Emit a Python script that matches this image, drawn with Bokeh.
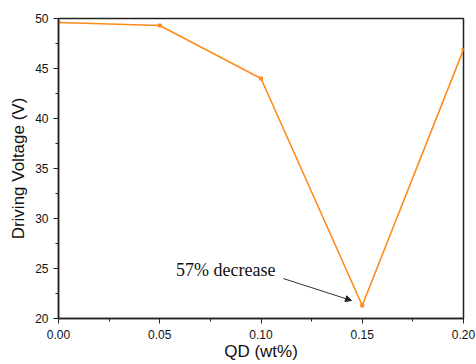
from bokeh.plotting import figure
from bokeh.models import Range1d, FixedTicker, Arrow, NormalHead, Label
from bokeh.embed import file_html
from bokeh.resources import INLINE

qd = [0.00, 0.05, 0.10, 0.15, 0.20]
voltage = [49.6, 49.3, 44.0, 21.3, 46.9]
x_ticks = [0.00, 0.05, 0.10, 0.15, 0.20]
x_minor = [0.025, 0.075, 0.125, 0.175]
y_ticks = [20, 25, 30, 35, 40, 45, 50]
y_minor = [22.5, 27.5, 32.5, 37.5, 42.5, 47.5]
annot_text = "57% decrease"
annot_pos = (0.058, 24.9)
arrow_start = (0.111, 24.0)
arrow_end = (0.1447, 21.8)

color = "#FF8A18"

p = figure(width=476, height=364, output_backend="svg", toolbar_location=None,
           x_range=Range1d(0, 0.2), y_range=Range1d(20, 50),
           min_border_left=58, min_border_right=13, min_border_top=18, min_border_bottom=46)
p.xgrid.visible = False
p.ygrid.visible = False
p.outline_line_color = "#222222"
p.outline_line_width = 1.5
p.background_fill_color = "white"
p.border_fill_color = "white"

p.line(qd, voltage, line_color=color, line_width=1.6)
p.scatter(qd, voltage, marker="square", size=3, fill_color=color, line_color=color)

p.xaxis.ticker = FixedTicker(ticks=x_ticks, minor_ticks=x_minor)
p.yaxis.ticker = FixedTicker(ticks=y_ticks, minor_ticks=y_minor)
p.xaxis.major_label_overrides = {t: f"{t:.2f}" for t in x_ticks}

for ax in (p.xaxis[0], p.yaxis[0]):
    ax.axis_line_color = "#222222"
    ax.axis_line_width = 1.5
    ax.major_tick_line_color = "#222222"
    ax.minor_tick_line_color = "#222222"
    ax.major_tick_in = 0
    ax.major_tick_out = 5
    ax.minor_tick_in = 0
    ax.minor_tick_out = 3
    ax.major_label_text_font = "Liberation Sans"
    ax.major_label_text_font_size = "12px"
    ax.major_label_text_color = "#111111"
    ax.axis_label_text_font = "Liberation Sans"
    ax.axis_label_text_font_size = "17px"
    ax.axis_label_text_font_style = "normal"
    ax.axis_label_text_color = "#111111"

p.xaxis.axis_label = "QD (wt%)"
p.yaxis.axis_label = "Driving Voltage (V)"
p.xaxis.major_label_standoff = 6
p.yaxis.major_label_standoff = 5
p.xaxis.axis_label_standoff = 0
p.yaxis.axis_label_standoff = 4

p.add_layout(Label(x=annot_pos[0], y=annot_pos[1], text=annot_text,
                   text_font="Liberation Serif", text_font_size="18px",
                   text_baseline="middle", text_align="left", text_color="#111111"))
p.add_layout(Arrow(x_start=arrow_start[0], y_start=arrow_start[1],
                   x_end=arrow_end[0], y_end=arrow_end[1],
                   line_color="#333333", line_width=1,
                   end=NormalHead(size=6, fill_color="#222222", line_color="#222222")))

open("out.html", "w").write(file_html(p, INLINE))
